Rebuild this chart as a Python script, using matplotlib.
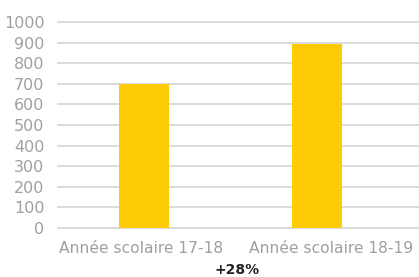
import matplotlib.pyplot as plt
import matplotlib.transforms as mtransforms

# donnees
categories = ['Année scolaire 17-18', 'Année scolaire 18-19']
valeurs = [700, 896]
yticks = [0, 100, 200, 300, 400, 500, 600, 700, 800, 900, 1000]
evolution = '+28%'

W, H = 419, 277
fig = plt.figure(figsize=(W / 100, H / 100), dpi=100)
ax = fig.add_axes([57 / W, 0.1704, 1 - 57 / W, 0.7567])

x = list(range(len(categories)))
ax.bar(x, valeurs, width=0.289, color='#FDCB05', zorder=2)

ax.set_xlim(-0.503, 1.59)
ax.set_ylim(-10, 1010)
ax.set_yticks(yticks)
ax.set_xticks(x)
ax.set_xticklabels(categories)
ax.yaxis.grid(True, color='#d4d4d4', linewidth=1.2, zorder=0)
ax.set_axisbelow(True)
for s in ax.spines.values():
    s.set_visible(False)
ax.tick_params(axis='both', length=0, colors='#a0a0a0')
ax.tick_params(axis='y', pad=9, labelsize=11.5)
ax.tick_params(axis='x', pad=8, labelsize=11.2)

# decalage des etiquettes comme dans l'original
for lab, dx in zip(ax.get_xticklabels(), [-2.5, 14]):
    lab.set_transform(lab.get_transform() + mtransforms.ScaledTranslation(dx / 100, 0, fig.dpi_scale_trans))

fig.text(237 / W, 1 - 270 / H, evolution, ha='center', va='center',
         fontsize=10, fontweight='bold', color='#222222')

fig.savefig('out.png', dpi=100)
